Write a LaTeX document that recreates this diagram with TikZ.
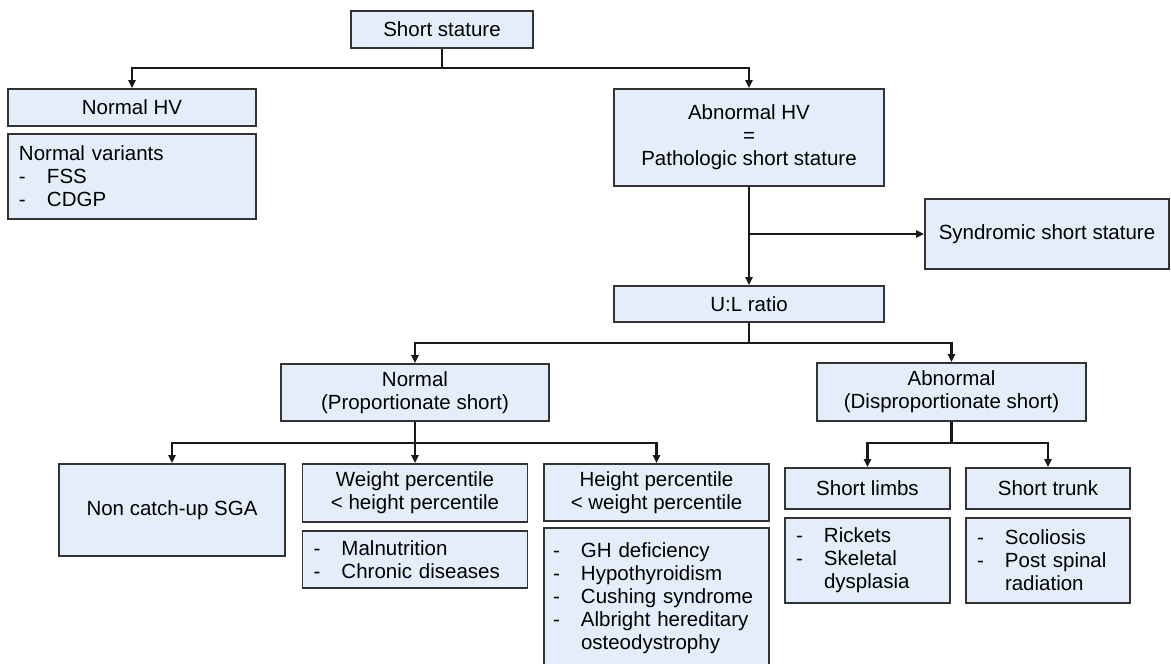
\documentclass[tikz,border=0pt]{standalone}
\usepackage{fontspec}
\setmainfont{Liberation Sans}
\usetikzlibrary{arrows.meta}
\definecolor{boxfill}{HTML}{E4EEFB}
\definecolor{boxline}{HTML}{333333}
\newcommand{\itm}[1]{\makebox[28pt][l]{-}#1}
\newcommand{\lcont}[1]{\hspace*{28pt}#1}
\begin{document}
\begin{tikzpicture}[x=1pt,y=-1pt,
  box/.style={draw=boxline, fill=boxfill, line width=1.7pt, inner sep=0pt, align=center,
    font=\fontsize{20.5}{23}\selectfont},
  lbox/.style={box, align=left, inner xsep=11pt},
  conn/.style={line width=2.3pt, draw=black!90},
  arr/.style={conn, -{Triangle[length=8pt,width=7pt]}}]
\fill[white] (0,0) rectangle (1171,664);
\useasboundingbox (0,0) rectangle (1171,664);

\node[box, minimum width=182pt, minimum height=37pt] (ss) at (442,29.5) {Short stature};
\node[box, minimum width=248pt, minimum height=37pt] (nhv) at (132,107.5) {Normal HV};
\node[lbox, text width=226pt, minimum height=85pt] (nv) at (132,176.5) {Normal variants\\ \itm{FSS}\\ \itm{CDGP}};
\node[box, minimum width=270pt, minimum height=97pt] (ahv) at (749,137.5) {Abnormal HV\\=\\Pathologic short stature};
\node[box, minimum width=244pt, minimum height=70pt] (syn) at (1047,234) {Syndromic short stature};
\node[box, minimum width=270pt, minimum height=36pt] (ul) at (749,304) {U:L ratio};
\node[box, minimum width=268pt, minimum height=57pt] (nor) at (415,392.5) {Normal\\(Proportionate short)};
\node[box, minimum width=269pt, minimum height=58pt] (abn) at (951.5,392) {Abnormal\\(Disproportionate short)};
\node[box, minimum width=226pt, minimum height=92pt] (sga) at (172,510) {Non catch-up SGA};
\node[box, minimum width=225pt, minimum height=58pt] (wp) at (415,493) {Weight percentile\\< height percentile};
\node[lbox, text width=203pt, minimum height=57pt] (mal) at (415,559.5) {\itm{Malnutrition}\\ \itm{Chronic diseases}};
\node[box, minimum width=225pt, minimum height=57pt] (hp) at (656.5,492.5) {Height percentile\\< weight percentile};
\node[lbox, inner xsep=9pt, text width=207pt, minimum height=140pt] (gh) at (656.5,598) {\itm{GH deficiency}\\ \itm{Hypothyroidism}\\ \itm{Cushing syndrome}\\ \itm{Albright hereditary}\\ \lcont{osteodystrophy}};
\node[box, minimum width=165pt, minimum height=41pt] (sl) at (867.5,488.5) {Short limbs};
\node[lbox, text width=143pt, minimum height=85pt] (rk) at (867.5,560.5) {\itm{Rickets}\\ \itm{Skeletal}\\ \lcont{dysplasia}};
\node[box, minimum width=164pt, minimum height=41pt] (st) at (1048,488.5) {Short trunk};
\node[lbox, text width=142pt, minimum height=85pt] (sc) at (1048,560.5) {\itm{Scoliosis}\\ \itm{Post spinal}\\ \lcont{radiation}};

\coordinate (j1) at (442,68);
\draw[conn] (ss.south) -- (j1);
\draw[arr] (j1) -| (nhv.north);
\draw[arr] (j1) -| (ahv.north);

\draw[arr] (ahv.south) -- (ul.north);
\coordinate (j2) at (749,234);
\draw[arr] (j2) -- (syn.west);

\coordinate (j3) at (749,343);
\draw[conn] (ul.south) -- (j3);
\draw[arr] (j3) -| (nor.north);
\draw[arr] (j3) -| (abn.north);

\coordinate (j4) at (415,443);
\draw[conn] (nor.south) -- (j4);
\draw[arr] (j4) -| (sga.north);
\draw[arr] (j4) -- (wp.north);
\draw[arr] (j4) -| (hp.north);

\coordinate (j5) at (951.5,443);
\draw[conn] (abn.south) -- (j5);
\draw[arr] (j5) -| (sl.north);
\draw[arr] (j5) -| (st.north);
\end{tikzpicture}
\end{document}
